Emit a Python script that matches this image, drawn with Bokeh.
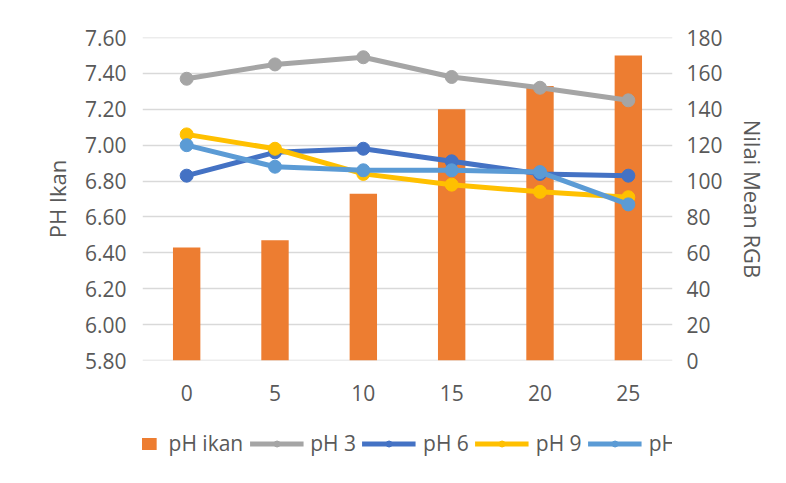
from bokeh.plotting import figure
from bokeh.layouts import column
from bokeh.models import (FactorRange, Range1d, LinearAxis, Legend, LegendItem,
                          SingleIntervalTicker, NumeralTickFormatter, ColumnDataSource)
from bokeh.embed import file_html
from bokeh.resources import INLINE

times = ["0", "5", "10", "15", "20", "25"]
ph_ikan = [6.43, 6.47, 6.73, 7.20, 7.33, 7.50]
ph3 = [157, 165, 169, 158, 152, 145]
ph6 = [103, 116, 118, 111, 104, 103]
ph9 = [126, 118, 104, 98, 94, 91]
ph12 = [120, 108, 106, 106, 105, 87]

series = [("a", "#A5A5A5", "pH 3"), ("b", "#4472C4", "pH 6"),
          ("c", "#FFC000", "pH 9"), ("d", "#5B9BD5", "pH 12")]

FONT = "Open Sans"
TXT = "#595959"
GRID = "#d9d9d9"
BAR = "#ED7D31"

p = figure(frame_width=530, frame_height=323, x_range=FactorRange(*times),
           y_range=Range1d(5.8, 7.6001), output_backend="svg",
           toolbar_location=None, min_border_left=142, min_border_right=106,
           min_border_top=37, min_border_bottom=47)
p.extra_y_ranges = {"rgb": Range1d(0, 180)}
p.outline_line_color = None

src = ColumnDataSource(dict(t=times, ph=ph_ikan, a=ph3, b=ph6, c=ph9, d=ph12))

p.vbar(x="t", top="ph", bottom=5.8, width=0.31, source=src,
       fill_color=BAR, line_color=None)
for col, color, lab in series:
    p.line(x="t", y=col, source=src, y_range_name="rgb", line_color=color,
           line_width=5)
    p.scatter(x="t", y=col, source=src, y_range_name="rgb", size=13,
              fill_color=color, line_color=color)

# left axis
ya = p.yaxis[0]
ya.ticker = SingleIntervalTicker(interval=0.2)
ya.formatter = NumeralTickFormatter(format="0.00")
ya.axis_label = "PH Ikan"

ra = LinearAxis(y_range_name="rgb", ticker=SingleIntervalTicker(interval=20),
                axis_label="Nilai Mean RGB")
p.add_layout(ra, "right")

for ax in [ya, ra, p.xaxis[0]]:
    ax.axis_line_color = None
    ax.major_tick_line_color = None
    ax.minor_tick_line_color = None
    ax.major_label_text_font = FONT
    ax.major_label_text_font_size = "21px"
    ax.major_label_text_color = TXT
    ax.axis_label_text_font = FONT
    ax.axis_label_text_font_size = "22px"
    ax.axis_label_text_font_style = "normal"
    ax.axis_label_text_color = TXT
ya.major_label_standoff = 10
ra.major_label_standoff = 8
ya.axis_label_standoff = 10
ra.axis_label_standoff = 12
p.xaxis[0].major_label_standoff = 18

p.xgrid.grid_line_color = None
p.ygrid.grid_line_color = GRID
p.ygrid.grid_line_width = 1.5
p.ygrid.ticker = SingleIntervalTicker(interval=0.2)

# legend strip below the chart: same series drawn outside its visible range
lg = figure(width=778, height=72, x_range=FactorRange(*times),
            y_range=Range1d(1000, 1001), output_backend="svg",
            toolbar_location=None, x_axis_location=None, y_axis_location=None,
            min_border=0, min_border_left=0, min_border_right=0,
            min_border_top=0, min_border_bottom=0)
lg.outline_line_color = None
lg.xgrid.visible = False
lg.ygrid.visible = False

rb = lg.vbar(x="t", top="ph", bottom=5.8, width=0.31, source=src,
             fill_color=BAR, line_color=None)
items = [LegendItem(label="pH ikan", renderers=[rb])]
for col, color, lab in series:
    l1 = lg.line(x="t", y=col, source=src, line_color=color, line_width=5)
    s1 = lg.scatter(x="t", y=col, source=src, size=13, fill_color=color,
                    line_color=color)
    items.append(LegendItem(label=lab, renderers=[l1, s1]))

legend = Legend(items=items, orientation="horizontal", location="center",
                glyph_width=54, glyph_height=15, label_standoff=7, spacing=6,
                padding=40, margin=0, border_line_color=None,
                label_text_font=FONT, label_text_font_size="21px",
                label_text_color=TXT, background_fill_alpha=0)
lg.add_layout(legend, "center")

layout = column(p, lg, spacing=0)
open("out.html", "w").write(file_html(layout, INLINE))
